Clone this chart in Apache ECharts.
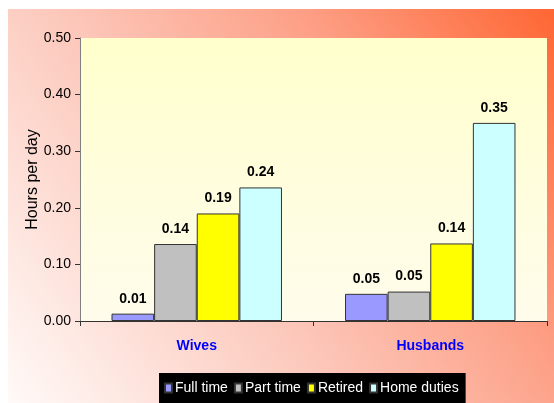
<!DOCTYPE html>
<html>
<head>
<meta charset="utf-8">
<script src="https://cdn.jsdelivr.net/npm/echarts@6/dist/echarts.min.js"></script>
<style>
  html, body { margin: 0; padding: 0; background: #fff; }
  #myChart { width: 554px; height: 403px; }
</style>
</head>
<body>
<div id="myChart"></div>
<script>
// chart data
const categories = ['Wives', 'Husbands'];
const seriesNames = ['Full time', 'Part time', 'Retired', 'Home duties'];
const fullTime = [0.013, 0.048];
const partTime = [0.136, 0.052];
const retired = [0.19, 0.137];
const homeDuties = [0.236, 0.35];
const yTicks = [0, 0.1, 0.2, 0.3, 0.4, 0.5];

const colors = ['#9999ff', '#c0c0c0', '#ffff00', '#ccffff'];
const values = [fullTime, partTime, retired, homeDuties];

let myEchart = echarts.init(document.getElementById('myChart'));
myEchart.setOption({
    backgroundColor: '#fff',
    textStyle: { fontFamily: 'Liberation Sans, Arial, sans-serif' },
    graphic: [{
        type: 'rect',
        z: -10,
        silent: true,
        shape: { x: 8, y: 9, width: 546, height: 394 },
        style: {
            fill: {
                type: 'linear', x: 0, y: 1, x2: 1, y2: 0,
                colorStops: [
                    { offset: 0, color: '#fffaf8' },
                    { offset: 0.4, color: '#fcc8bb' },
                    { offset: 0.7, color: '#fd9e84' },
                    { offset: 1, color: '#ff6633' }
                ]
            }
        }
    }],
    grid: {
        left: 80, right: 7, top: 38, bottom: 82,
        containLabel: false,
        outerBoundsMode: 'none',
        show: true,
        borderWidth: 0,
        backgroundColor: {
            type: 'linear', x: 0, y: 0, x2: 0, y2: 1,
            colorStops: [
                { offset: 0, color: '#ffffcc' },
                { offset: 1, color: '#fffcec' }
            ]
        }
    },
    legend: {
        data: seriesNames,
        left: 159,
        top: 373,
        backgroundColor: '#000',
        padding: [8, 7, 9, 5],
        itemWidth: 7,
        itemHeight: 9,
        itemGap: 6,
        icon: 'rect',
        textStyle: { color: '#fff', fontSize: 14, padding: [0, 0, 0, -2] }
    },
    xAxis: {
        type: 'category',
        data: categories,
        axisLine: { lineStyle: { color: '#333' } },
        axisTick: { show: true, length: 5, lineStyle: { color: '#333' } },
        axisLabel: { color: '#0000ff', fontWeight: 'bold', fontSize: 14, margin: 18 }
    },
    yAxis: {
        type: 'value',
        min: yTicks[0],
        max: yTicks[yTicks.length - 1],
        interval: 0.1,
        name: 'Hours per day',
        nameLocation: 'middle',
        nameGap: 39,
        nameMoveOverlap: false,
        nameTextStyle: { color: '#000', fontSize: 16 },
        axisLine: { show: true, lineStyle: { color: '#808080' } },
        axisTick: { show: true, length: 5, lineStyle: { color: '#333' } },
        splitLine: { show: false },
        axisLabel: {
            color: '#000', fontSize: 14, margin: 9,
            formatter: v => v.toFixed(2)
        }
    },
    series: seriesNames.map((name, i) => ({
        name: name,
        type: 'bar',
        data: values[i],
        barGap: 0,
        barCategoryGap: '27%',
        itemStyle: { color: colors[i], borderColor: '#333', borderWidth: 1 },
        label: {
            show: true,
            position: 'top',
            distance: 8,
            color: '#000',
            fontWeight: 'bold',
            fontSize: 14,
            formatter: p => p.value.toFixed(2)
        }
    }))
});
window.addEventListener('resize', function () {
    myEchart.resize();
});
</script>
</body>
</html>
